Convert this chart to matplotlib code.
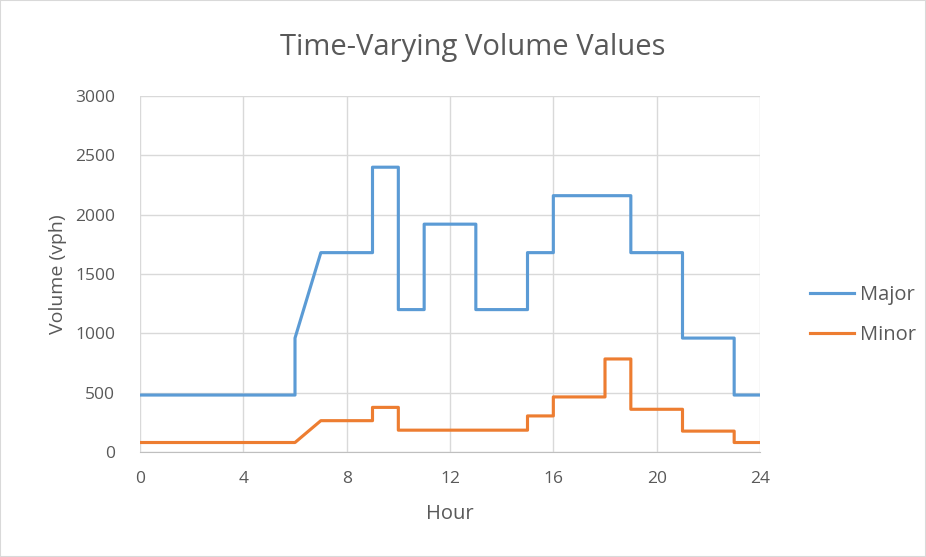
import matplotlib.pyplot as plt
from matplotlib.patches import Rectangle

plt.rcParams['font.family'] = ['Open Sans', 'DejaVu Sans']

major_hours = [0, 6, 6, 7, 9, 9, 10, 10, 11, 11, 13, 13, 15, 15, 16, 16, 19, 19, 21, 21, 23, 23, 24]
major_vph = [480, 480, 960, 1680, 1680, 2400, 2400, 1200, 1200, 1920, 1920, 1200, 1200,
             1680, 1680, 2160, 2160, 1680, 1680, 960, 960, 480, 480]

minor_hours = [0, 6, 7, 9, 9, 10, 10, 15, 15, 16, 16, 18, 18, 19, 19, 21, 21, 23, 23, 24]
minor_vph = [80, 80, 264, 264, 376, 376, 184, 184, 304, 304, 464, 464, 784, 784,
             360, 360, 176, 176, 80, 80]

xticks = [0, 4, 8, 12, 16, 20, 24]
yticks = [0, 500, 1000, 1500, 2000, 2500, 3000]

txt = '#595959'
fig = plt.figure(figsize=(9.26, 5.57), dpi=100)
ax = fig.add_axes([140/926, 105/557, 620/926, 356/557])

ax.plot(major_hours, major_vph, color='#5b9bd5', lw=2.25, label='Major', solid_joinstyle='round')
ax.plot(minor_hours, minor_vph, color='#ed7d31', lw=2.25, label='Minor', solid_joinstyle='round')

ax.set_xlim(0, 24)
ax.set_ylim(0, 3000)
ax.set_xticks(xticks)
ax.set_yticks(yticks)
ax.grid(True, color='#d9d9d9', lw=1)
ax.set_axisbelow(True)
for s in ['top', 'right', 'left']:
    ax.spines[s].set_visible(False)
ax.spines['bottom'].set_color('#bfbfbf')
ax.tick_params(length=0, labelsize=12.5, colors=txt)
ax.tick_params(axis='x', pad=14)
ax.tick_params(axis='y', pad=18)

ax.set_xlabel('Hour', fontsize=14.5, color=txt, labelpad=12)
ax.set_ylabel('Volume (vph)', fontsize=14, color=txt, labelpad=6)
fig.text(473/926, 1 - 47/557, 'Time-Varying Volume Values', fontsize=21, color=txt,
         ha='center', va='center')

fig.legend(loc='center left', bbox_to_anchor=(792/926, 1 - 315/557), frameon=False,
           fontsize=14.5, labelcolor=txt, handlelength=2.2, labelspacing=1.0, handletextpad=0.3)

fig.patches.append(Rectangle((0, 0), 1, 1, transform=fig.transFigure, fill=False,
                             edgecolor='#d9d9d9', lw=1.5))

fig.savefig('out.png', dpi=100)
